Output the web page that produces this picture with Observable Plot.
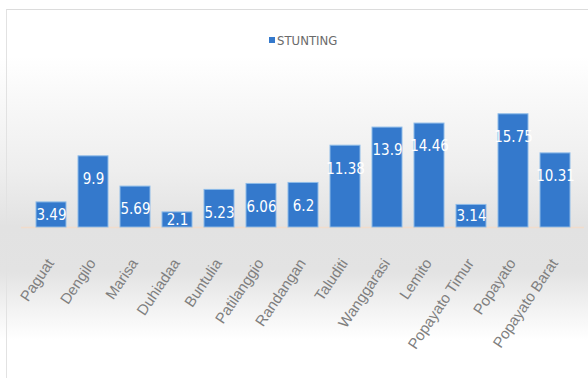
<!DOCTYPE html>
<html>
<head>
<meta charset="utf-8">
<script src="https://cdn.jsdelivr.net/npm/d3@7"></script>
<script src="https://cdn.jsdelivr.net/npm/@observablehq/plot@0.6"></script>
<style>
  html, body { margin: 0; padding: 0; background: #fff; }
  #wrap {
    position: relative; width: 588px; height: 378px; overflow: hidden;
    background: linear-gradient(to bottom, #ffffff 0%, #ffffff 15%, #f9f9f9 25%, #eeeeee 45%, #e2e2e2 60%, #e3e3e3 72%, #f3f3f3 82%, #ffffff 90%, #ffffff 100%);
    font-family: "Liberation Sans", Arial, sans-serif;
  }
  #frame {
    position: absolute; left: 6px; top: 9px; right: -2px; bottom: -2px;
    border-top: 1px solid #dcdcdc; border-left: 1px solid #e2e2e2;
    pointer-events: none;
  }
  #legend { position: relative; height: 60px; }
  #legend .sw { position: absolute; left: 269px; top: 37px; width: 6px; height: 6px; background: #3479cc; }
  #legend .lb { position: absolute; left: 277px; top: 33px; font-size: 13px; color: #6a6a6a;
    font-family: "DejaVu Sans", sans-serif; font-stretch: condensed; }
  svg { display: block; }
</style>
</head>
<body>
<div id="wrap">
  <div id="frame"></div>
  <div id="legend"><span class="sw"></span><span class="lb">STUNTING</span></div>
  <div id="chart"></div>
</div>
<script>
const districts = ["Paguat", "Dengilo", "Marisa", "Duhiadaa", "Buntulia", "Patilanggio", "Randangan", "Taluditi", "Wanggarasi", "Lemito", "Popayato Timur", "Popayato", "Popayato Barat"];
const stunting = [3.49, 9.9, 5.69, 2.1, 5.23, 6.06, 6.2, 11.38, 13.9, 14.46, 3.14, 15.75, 10.31];
const seriesName = "STUNTING";

const data = districts.map((d, i) => ({district: d, value: stunting[i]}));
const tall = data.filter(d => d.value >= 4);
const short = data.filter(d => d.value < 4);

const barColor = "#3479cc";
const valueFont = "'DejaVu Sans', sans-serif";

const chart = Plot.plot({
  width: 588,
  height: 318,
  marginTop: 52,
  marginBottom: 151,
  marginLeft: 21,
  marginRight: 4,
  style: {background: "transparent", overflow: "visible"},
  x: {domain: districts, padding: 0.29, label: null},
  y: {domain: [0, 16], axis: null},
  marks: [
    Plot.ruleY([0], {stroke: "#f1dccb", strokeWidth: 1.5}),
    Plot.barY(data, {x: "district", y: "value", fill: barColor, stroke: "#8dbbe8", strokeWidth: 1}),
    Plot.text(tall, {x: "district", y: "value", text: d => String(d.value), dy: 23, fill: "#ffffff", fontSize: 15, fontFamily: valueFont}),
    Plot.text(short, {x: "district", y: d => d.value / 2, text: d => String(d.value), fill: "#ffffff", fontSize: 15, fontFamily: valueFont}),
    Plot.axisX({tickRotate: -56, tickSize: 0, tickPadding: 33, dx: -1, fill: "#7f7f7f", fontSize: 15, fontFamily: "'Liberation Sans', Arial, sans-serif", label: null})
  ]
});
d3.select(chart).selectAll("g[fill='#ffffff'] text").style("font-stretch", "condensed");
d3.select(chart).selectAll("text").filter(function () { return this.getAttribute("fill") === "#ffffff"; }).style("font-stretch", "condensed");
document.getElementById("chart").appendChild(chart);
</script>
</body>
</html>
